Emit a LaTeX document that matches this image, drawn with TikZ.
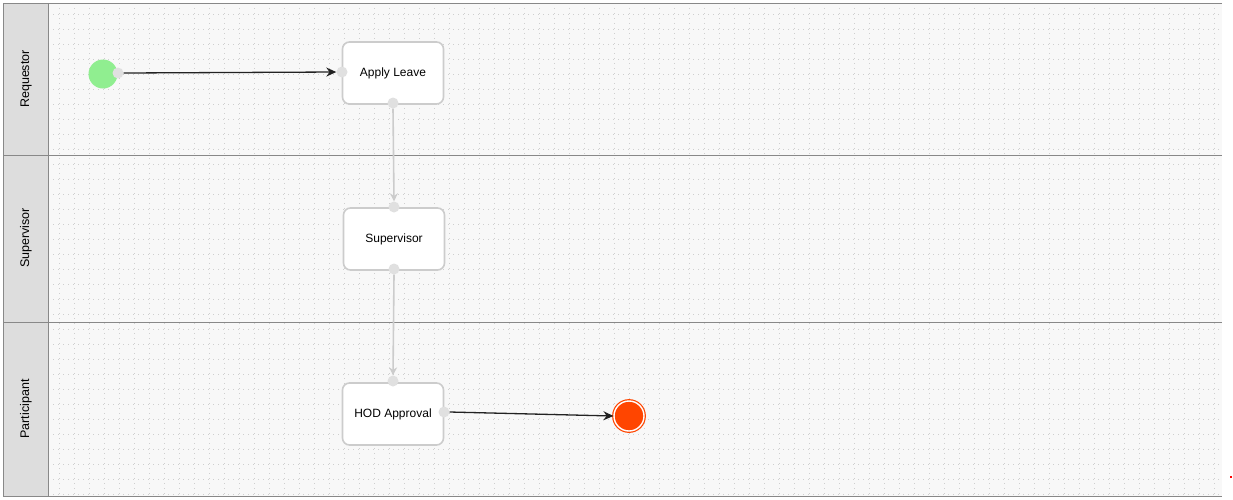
\documentclass[tikz,border=0pt]{standalone}
\usepackage{fontspec}
\setmainfont{Liberation Sans}
\usetikzlibrary{arrows.meta}
\definecolor{lanebg}{HTML}{F8F8F8}
\definecolor{hdrbg}{HTML}{DDDDDD}
\definecolor{hdrline}{HTML}{888888}
\definecolor{boxline}{HTML}{CCCCCC}
\definecolor{portc}{HTML}{E0E0E0}
\definecolor{dotc}{HTML}{CFCFCF}
\definecolor{startc}{HTML}{90EE90}
\definecolor{endc}{HTML}{FF4500}
\definecolor{flowc}{HTML}{222222}
\tikzset{
  task/.style={draw=boxline, line width=1.6pt, fill=white, rounded corners=7pt,
    minimum width=101pt, minimum height=62pt, inner sep=0pt, font=\fontsize{12}{14}\selectfont},
  lanehdr/.style={draw=hdrline, line width=1pt, fill=hdrbg, inner sep=0pt},
  lanelbl/.style={rotate=90, font=\fontsize{12.5}{14}\selectfont},
  port/.style={circle, fill=portc, minimum size=11pt, inner sep=0pt},
  blackflow/.style={draw=flowc, line width=1.3pt, -{Stealth[length=10pt,width=9pt]}},
  grayflow/.style={draw=boxline, line width=1.6pt, -{Stealth[length=8pt,width=8pt]}},
}
\begin{document}
\begin{tikzpicture}[x=1pt,y=-1pt]
\useasboundingbox (0,0) rectangle (1233,499);
\fill[white] (0,0) rectangle (1233,499);
% lane background
\fill[lanebg] (48,3) rectangle (1222,496);
% dotted grid
\begin{scope}
\clip (48,3) rectangle (1222,496);
\foreach \yy in {14,29,...,496} {
  \draw[dotc, line width=0.6pt, dash pattern=on 0.6pt off 4.4pt] (48,\yy) -- (1222,\yy);
}
\foreach \xx in {59,74,...,1222} {
  \draw[dotc, line width=0.6pt, dash pattern=on 0.6pt off 4.4pt] (\xx,3) -- (\xx,496);
}
\end{scope}
% lane lines
\draw[hdrline, line width=1pt] (48,3) -- (1222,3);
\draw[hdrline, line width=1pt] (48,155) -- (1222,155);
\draw[hdrline, line width=1pt] (48,322) -- (1222,322);
\draw[hdrline, line width=1pt] (48,496) -- (1222,496);
% headers
\path[lanehdr] (3,3) rectangle (48,155);
\path[lanehdr] (3,155) rectangle (48,322);
\path[lanehdr] (3,322) rectangle (48,496);
\node[lanelbl] (l1) at (26,79) {Requestor};
\node[lanelbl] (l2) at (26,238) {Supervisor};
\node[lanelbl] (l3) at (26,409) {Participant};
% events
\node[circle, fill=startc, minimum size=29pt, inner sep=0pt] (start) at (103,74) {};
\node[circle, fill=endc, draw=endc, line width=1.2pt, double=white, double distance=1.4pt, minimum size=30pt, inner sep=0pt] (end) at (629,416) {};
% tasks
\node[task] (apply) at (393,73) {Apply Leave};
\node[task] (sup) at (394,239) {Supervisor};
\node[task] (hod) at (393,414) {HOD Approval};
% ports
\node[port] (p0) at (118,73) {};
\node[port] (p1) at (342,72) {};
\node[port] (p2) at (393,103) {};
\node[port] (p3) at (394,207) {};
\node[port] (p4) at (394,269) {};
\node[port] (p5) at (393,381) {};
\node[port] (p6) at (444,412) {};
% flows
\draw[blackflow] (p0.east) -- (p1.west);
\draw[grayflow] (p2.south) -- (p3.north);
\draw[grayflow] (p4.south) -- (p5.north);
\draw[blackflow] (p6.east) -- (end.west);
% stray dot
\fill[red] (1230,476) rectangle (1232,478);
\end{tikzpicture}
\end{document}
